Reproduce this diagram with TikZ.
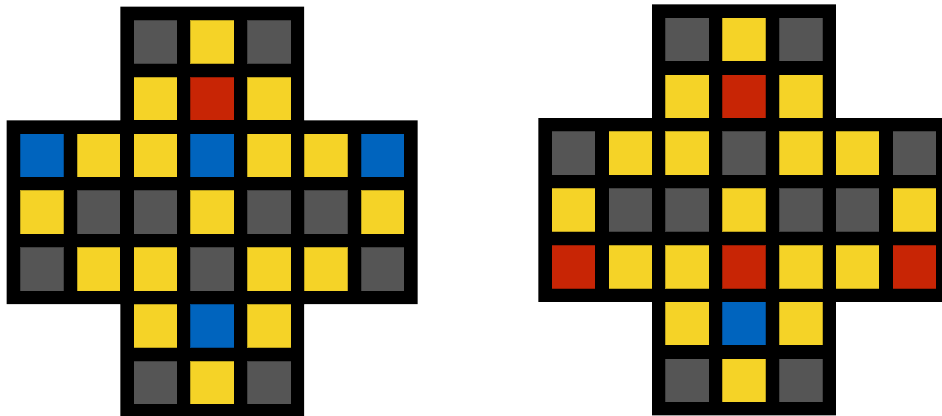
\documentclass[tikz,border=0pt]{standalone}
\definecolor{cgray}{RGB}{85,85,85}
\definecolor{cyel}{RGB}{245,211,39}
\definecolor{cred}{RGB}{200,37,5}
\definecolor{cblue}{RGB}{0,100,190}
\tikzset{
  boardframe/.style={fill=black},
  tile/.style={fill=#1, draw=black, draw opacity=0.25, line width=0.5pt}
}
\newcommand\bdrow[3]{%
  \foreach \cc [count=\i from #2] in {#3}
    \path[tile=\cc] ({\i*56.8},{#1*56.8}) rectangle +(43.6,43.6);%
}
\newcommand\bdframe{%
  \path[boardframe] (-13.3,100.3) -- (100.3,100.3) -- (100.3,-13.3) -- (284.1,-13.3)
    -- (284.1,100.3) -- (397.7,100.3) -- (397.7,284.1) -- (284.1,284.1)
    -- (284.1,397.7) -- (100.3,397.7) -- (100.3,284.1) -- (-13.3,284.1) -- cycle;%
}
\begin{document}
\begin{tikzpicture}[x=1pt,y=-1pt]
\useasboundingbox (0,0) rectangle (942,415);
% left board
\begin{scope}[shift={(20,20)}]
  \bdframe
  \bdrow{0}{2}{cgray,cyel,cgray}
  \bdrow{1}{2}{cyel,cred,cyel}
  \bdrow{2}{0}{cblue,cyel,cyel,cblue,cyel,cyel,cblue}
  \bdrow{3}{0}{cyel,cgray,cgray,cyel,cgray,cgray,cyel}
  \bdrow{4}{0}{cgray,cyel,cyel,cgray,cyel,cyel,cgray}
  \bdrow{5}{2}{cyel,cblue,cyel}
  \bdrow{6}{2}{cgray,cyel,cgray}
\end{scope}
% right board
\begin{scope}[shift={(551.7,17.7)}]
  \bdframe
  \bdrow{0}{2}{cgray,cyel,cgray}
  \bdrow{1}{2}{cyel,cred,cyel}
  \bdrow{2}{0}{cgray,cyel,cyel,cgray,cyel,cyel,cgray}
  \bdrow{3}{0}{cyel,cgray,cgray,cyel,cgray,cgray,cyel}
  \bdrow{4}{0}{cred,cyel,cyel,cred,cyel,cyel,cred}
  \bdrow{5}{2}{cyel,cblue,cyel}
  \bdrow{6}{2}{cgray,cyel,cgray}
\end{scope}
\end{tikzpicture}
\end{document}
